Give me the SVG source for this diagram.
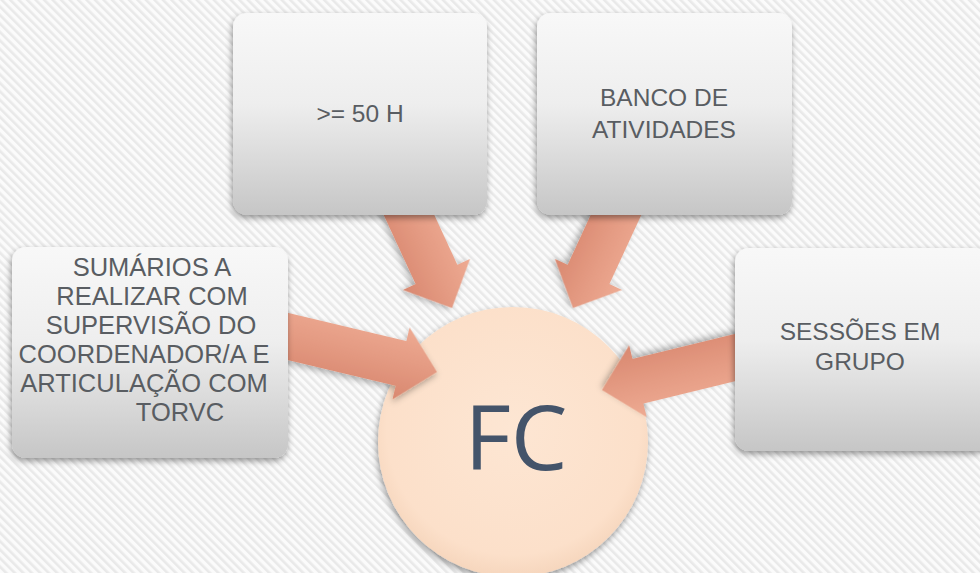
<svg xmlns="http://www.w3.org/2000/svg" width="980" height="573" viewBox="0 0 980 573">
<defs>
<pattern id="stripes" patternUnits="userSpaceOnUse" width="6" height="6" patternTransform="rotate(-45)">
<rect width="6" height="6" fill="#fbfbfb"/>
<rect width="2.6" height="6" fill="#e9e9e9"/>
</pattern>
<linearGradient id="boxg" x1="0" y1="0" x2="0" y2="1">
<stop offset="0" stop-color="#f8f8f8"/>
<stop offset="0.45" stop-color="#eeeeee"/>
<stop offset="1" stop-color="#c6c6c6"/>
</linearGradient>
<radialGradient id="circg" cx="0.5" cy="0.45" r="0.55">
<stop offset="0" stop-color="#fde6d3"/>
<stop offset="0.85" stop-color="#fce0ca"/>
<stop offset="1" stop-color="#f6d6bd"/>
</radialGradient>
<linearGradient id="arrg" gradientUnits="userSpaceOnUse" x1="0" y1="-37" x2="0" y2="37">
<stop offset="0" stop-color="#eeab93"/>
<stop offset="1" stop-color="#d98870"/>
</linearGradient>
<filter id="shadow" x="-20%" y="-20%" width="140%" height="140%">
<feDropShadow dx="-1" dy="3" stdDeviation="3" flood-color="#000" flood-opacity="0.4"/>
</filter>
<filter id="ashadow" x="-30%" y="-30%" width="160%" height="160%">
<feDropShadow dx="0" dy="3" stdDeviation="3" flood-color="#000" flood-opacity="0.3"/>
</filter>
<path id="arrow" d="M-160,-23 L-37,-23 L-37,-37 L0,0 L-37,37 L-37,23 L-160,23 Z"/>
</defs>
<style>
.box{fill:url(#boxg);filter:url(#shadow);}
.lbl{font-family:"Liberation Sans",Arial,sans-serif;font-size:24.5px;fill:#595d62;text-anchor:middle;}
.tight{font-size:25.5px;}
.fc{font-family:"Open Sans","Noto Sans",sans-serif;font-size:90px;fill:#44546a;text-anchor:middle;}
.arr{fill:url(#arrg);filter:url(#ashadow);}
</style>
<rect width="980" height="573" fill="url(#stripes)"/>
<g id="node-fc">
<circle cx="513" cy="442" r="135" fill="url(#circg)" filter="url(#shadow)"/>
<text class="fc" x="516" y="470">FC</text>
</g>
<g id="connectors">
<use href="#arrow" class="arr" transform="translate(452,308) rotate(65.2)"/>
<use href="#arrow" class="arr" transform="translate(573,308) rotate(114.8)"/>
<use href="#arrow" class="arr" transform="translate(437,372) rotate(13.4)"/>
<use href="#arrow" class="arr" transform="translate(602,390) rotate(166.3)"/>
</g>
<g id="node-horas">
<rect class="box" x="233" y="13" width="254" height="202" rx="14"/>
<text class="lbl" x="360" y="122">&gt;= 50 H</text>
</g>
<g id="node-banco">
<rect class="box" x="537" y="13" width="255" height="202" rx="14"/>
<text class="lbl"><tspan x="664" y="106">BANCO DE</tspan><tspan x="664" y="138">ATIVIDADES</tspan></text>
</g>
<g id="node-sumarios">
<rect class="box" x="12" y="247" width="276" height="211" rx="14"/>
<text class="lbl tight"><tspan x="152" y="276">SUMÁRIOS A</tspan><tspan x="152" y="305">REALIZAR COM</tspan><tspan x="151" y="334">SUPERVISÃO DO</tspan><tspan x="144" y="363">COORDENADOR/A E</tspan><tspan x="144" y="392">ARTICULAÇÃO COM</tspan><tspan x="180" y="421">TORVC</tspan></text>
</g>
<g id="node-sessoes">
<rect class="box" x="735" y="248" width="254" height="203" rx="14"/>
<text class="lbl"><tspan x="860" y="340">SESSÕES EM</tspan><tspan x="860" y="370">GRUPO</tspan></text>
</g>
</svg>
